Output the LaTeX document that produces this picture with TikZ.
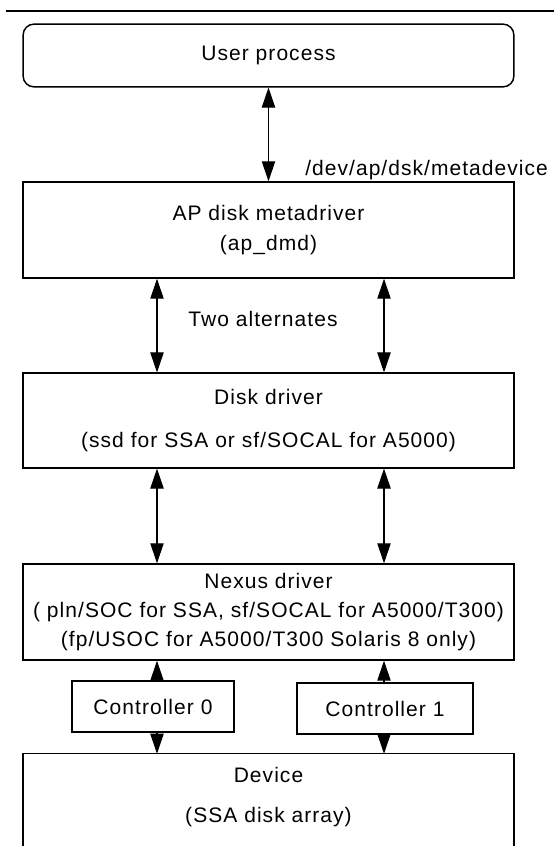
\documentclass[tikz,border=0pt]{standalone}
\usepackage{fontspec}
\setmainfont{Liberation Sans}[LetterSpace=5]
\usepackage{tikz}
\usetikzlibrary{arrows.meta,positioning}

\tikzset{
  box/.style={draw, line width=1.1pt, minimum width=368pt, inner sep=0pt, align=center},
  ctrl/.style={draw, line width=1.1pt, inner sep=0pt, minimum height=38pt},
  link/.style={line width=0.8pt, {Triangle[length=15pt,width=10pt]}-{Triangle[length=15pt,width=10pt]}},
  oneway/.style={line width=0.8pt, -{Triangle[length=15pt,width=10pt]}},
  lbl/.style={inner sep=0pt, align=center}
}

\begin{document}
\begin{tikzpicture}[x=0.75pt,y=0.75pt,yscale=-1,xscale=1, font=\fontsize{15.75}{22}\selectfont]
\useasboundingbox (0,0) rectangle (554,846);

%Rule: top
\draw[line width=1.1pt] (6,11) -- (554,11);

% Boxes
\node[box, rounded corners=8pt, minimum height=47pt] (user) at (268.5,55.5) {User process};
\node[box, minimum height=72pt] (ap) at (268.5,230) {AP disk metadriver\\(ap\_dmd)};
\node[box, minimum height=71pt] (disk) at (268.5,420.5) {Disk driver\\[10pt](ssd for SSA or sf/SOCAL for A5000)};
\node[box, minimum height=72pt] (nexus) at (268.5,612) {Nexus driver\\( pln/SOC for SSA, sf/SOCAL for A5000/T300)\\(fp/USOC for A5000/T300 Solaris 8 only)};
\node[ctrl, minimum width=121.5pt] (c0) at (153,706.5) {Controller 0};
\node[ctrl, minimum width=132pt] (c1) at (385,708.5) {Controller 1};
\node[lbl, minimum width=368pt, minimum height=64.5pt] (dev) at (268.5,797) {Device\\[8pt](SSA disk array)};

% Device box runs off the bottom
\coordinate (bot) at (0,846);
\draw[line width=1.1pt] (dev.south west |- bot) -- (dev.north west) -- (dev.north east) -- (dev.south east |- bot);

% Text labels
\node[lbl, anchor=west] (devpath) at (305,170) {/dev/ap/dsk/metadevice};
\node[lbl] (alt) at (263,319) {Two alternates};

% Connectors
\coordinate (lx) at (157,0);
\coordinate (rx) at (384,0);
\draw[link] (user) -- (ap);
\draw[link] (ap.south -| lx) -- (disk.north -| lx);
\draw[link] (ap.south -| rx) -- (disk.north -| rx);
\draw[link] (disk.south -| lx) -- (nexus.north -| lx);
\draw[link] (disk.south -| rx) -- (nexus.north -| rx);
\draw[oneway] (c0.north -| lx) -- (nexus.south -| lx);
\draw[oneway] (c0.south -| lx) -- (dev.north -| lx);
\draw[oneway] (c1.north -| rx) -- (nexus.south -| rx);
\draw[oneway] (c1.south -| rx) -- (dev.north -| rx);
\end{tikzpicture}
\end{document}
